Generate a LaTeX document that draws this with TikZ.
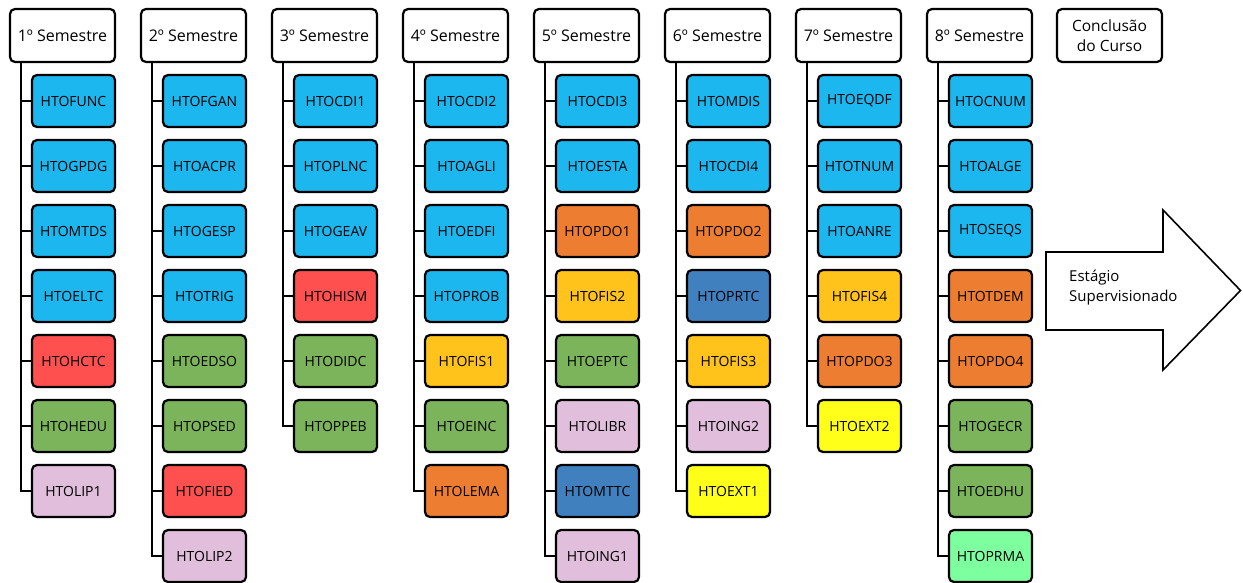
\documentclass[tikz,border=0pt]{standalone}
\usepackage{fontspec}
\setmainfont{Open Sans}

\definecolor{azul}{HTML}{1BB7EE}
\definecolor{vermelho}{HTML}{FF5050}
\definecolor{verde}{HTML}{7BB45A}
\definecolor{rosa}{HTML}{E0BEDC}
\definecolor{laranja}{HTML}{ED7D31}
\definecolor{ouro}{HTML}{FFC31B}
\definecolor{amarelo}{HTML}{FFFF19}
\definecolor{azulesc}{HTML}{4080BF}
\definecolor{verdecl}{HTML}{7DFFA0}

\begin{document}
\begin{tikzpicture}[x=1pt,y=-1pt,
	semestre/.style={draw,line width=2.2pt,rounded corners=5pt,fill=white,minimum width=105pt,minimum height=53pt,inner sep=0pt,font=\fontsize{16}{19}\selectfont},
	disc/.style={draw,line width=2.2pt,rounded corners=5pt,minimum width=83pt,minimum height=52pt,inner sep=0pt,font=\fontsize{14}{17}\selectfont},
	tronco/.style={line width=2.6pt},
	ramo/.style={line width=2.2pt}]

	\useasboundingbox (0,0) rectangle (1243,583);

	% semesters
	\node[semestre] (s1) at (62.5,35.5) {1º Semestre};
	\node[semestre] (s2) at (193.5,35.5) {2º Semestre};
	\node[semestre] (s3) at (324.5,35.5) {3º Semestre};
	\node[semestre] (s4) at (455.5,35.5) {4º Semestre};
	\node[semestre] (s5) at (586.5,35.5) {5º Semestre};
	\node[semestre] (s6) at (717.5,35.5) {6º Semestre};
	\node[semestre] (s7) at (848.5,35.5) {7º Semestre};
	\node[semestre] (s8) at (979.5,35.5) {8º Semestre};
	\node[semestre,align=center,font=\fontsize{15.5}{20}\selectfont] (fim) at (1109.5,35.5) {Conclusão\\do Curso};

	% 1st semester
	\node[disc,fill=azul] (htofunc) at (73.5,101) {HTOFUNC};
	\node[disc,fill=azul] (htogpdg) at (73.5,166) {HTOGPDG};
	\node[disc,fill=azul] (htomtds) at (73.5,231) {HTOMTDS};
	\node[disc,fill=azul] (htoeltc) at (73.5,296) {HTOELTC};
	\node[disc,fill=vermelho] (htohctc) at (73.5,361) {HTOHCTC};
	\node[disc,fill=verde] (htohedu) at (73.5,426) {HTOHEDU};
	\node[disc,fill=rosa] (htolip1) at (73.5,491) {HTOLIP1};
	\coordinate (t1) at (s1.south west -| 21,0);
	\draw[tronco] (t1) |- (htolip1.west);
	\draw[ramo] (t1 |- htofunc.west) -- (htofunc.west) (t1 |- htogpdg.west) -- (htogpdg.west)
		(t1 |- htomtds.west) -- (htomtds.west) (t1 |- htoeltc.west) -- (htoeltc.west)
		(t1 |- htohctc.west) -- (htohctc.west) (t1 |- htohedu.west) -- (htohedu.west);

	% 2nd semester
	\node[disc,fill=azul] (htofgan) at (204.5,101) {HTOFGAN};
	\node[disc,fill=azul] (htoacpr) at (204.5,166) {HTOACPR};
	\node[disc,fill=azul] (htogesp) at (204.5,231) {HTOGESP};
	\node[disc,fill=azul] (htotrig) at (204.5,296) {HTOTRIG};
	\node[disc,fill=verde] (htoedso) at (204.5,361) {HTOEDSO};
	\node[disc,fill=verde] (htopsed) at (204.5,426) {HTOPSED};
	\node[disc,fill=vermelho] (htofied) at (204.5,491) {HTOFIED};
	\node[disc,fill=rosa] (htolip2) at (204.5,556) {HTOLIP2};
	\coordinate (t2) at (s2.south west -| 152,0);
	\draw[tronco] (t2) |- (htolip2.west);
	\draw[ramo] (t2 |- htofgan.west) -- (htofgan.west) (t2 |- htoacpr.west) -- (htoacpr.west)
		(t2 |- htogesp.west) -- (htogesp.west) (t2 |- htotrig.west) -- (htotrig.west)
		(t2 |- htoedso.west) -- (htoedso.west) (t2 |- htopsed.west) -- (htopsed.west)
		(t2 |- htofied.west) -- (htofied.west);

	% 3rd semester
	\node[disc,fill=azul] (htocdi1) at (335.5,101) {HTOCDI1};
	\node[disc,fill=azul] (htoplnc) at (335.5,166) {HTOPLNC};
	\node[disc,fill=azul] (htogeav) at (335.5,231) {HTOGEAV};
	\node[disc,fill=vermelho] (htohism) at (335.5,296) {HTOHISM};
	\node[disc,fill=verde] (htodidc) at (335.5,361) {HTODIDC};
	\node[disc,fill=verde] (htoppeb) at (335.5,426) {HTOPPEB};
	\coordinate (t3) at (s3.south west -| 283,0);
	\draw[tronco] (t3) |- (htoppeb.west);
	\draw[ramo] (t3 |- htocdi1.west) -- (htocdi1.west) (t3 |- htoplnc.west) -- (htoplnc.west)
		(t3 |- htogeav.west) -- (htogeav.west) (t3 |- htohism.west) -- (htohism.west)
		(t3 |- htodidc.west) -- (htodidc.west);

	% 4th semester
	\node[disc,fill=azul] (htocdi2) at (466.5,101) {HTOCDI2};
	\node[disc,fill=azul] (htoagli) at (466.5,166) {HTOAGLI};
	\node[disc,fill=azul] (htoedfi) at (466.5,231) {HTOEDFI};
	\node[disc,fill=azul] (htoprob) at (466.5,296) {HTOPROB};
	\node[disc,fill=ouro] (htofis1) at (466.5,361) {HTOFIS1};
	\node[disc,fill=verde] (htoeinc) at (466.5,426) {HTOEINC};
	\node[disc,fill=laranja] (htolema) at (466.5,491) {HTOLEMA};
	\coordinate (t4) at (s4.south west -| 414,0);
	\draw[tronco] (t4) |- (htolema.west);
	\draw[ramo] (t4 |- htocdi2.west) -- (htocdi2.west) (t4 |- htoagli.west) -- (htoagli.west)
		(t4 |- htoedfi.west) -- (htoedfi.west) (t4 |- htoprob.west) -- (htoprob.west)
		(t4 |- htofis1.west) -- (htofis1.west) (t4 |- htoeinc.west) -- (htoeinc.west);

	% 5th semester
	\node[disc,fill=azul] (htocdi3) at (597.5,101) {HTOCDI3};
	\node[disc,fill=azul] (htoesta) at (597.5,166) {HTOESTA};
	\node[disc,fill=laranja] (htopdo1) at (597.5,231) {HTOPDO1};
	\node[disc,fill=ouro] (htofis2) at (597.5,296) {HTOFIS2};
	\node[disc,fill=verde] (htoeptc) at (597.5,361) {HTOEPTC};
	\node[disc,fill=rosa] (htolibr) at (597.5,426) {HTOLIBR};
	\node[disc,fill=azulesc] (htomttc) at (597.5,491) {HTOMTTC};
	\node[disc,fill=rosa] (htoing1) at (597.5,556) {HTOING1};
	\coordinate (t5) at (s5.south west -| 545,0);
	\draw[tronco] (t5) |- (htoing1.west);
	\draw[ramo] (t5 |- htocdi3.west) -- (htocdi3.west) (t5 |- htoesta.west) -- (htoesta.west)
		(t5 |- htopdo1.west) -- (htopdo1.west) (t5 |- htofis2.west) -- (htofis2.west)
		(t5 |- htoeptc.west) -- (htoeptc.west) (t5 |- htolibr.west) -- (htolibr.west)
		(t5 |- htomttc.west) -- (htomttc.west);

	% 6th semester
	\node[disc,fill=azul] (htomdis) at (728.5,101) {HTOMDIS};
	\node[disc,fill=azul] (htocdi4) at (728.5,166) {HTOCDI4};
	\node[disc,fill=laranja] (htopdo2) at (728.5,231) {HTOPDO2};
	\node[disc,fill=azulesc] (htoprtc) at (728.5,296) {HTOPRTC};
	\node[disc,fill=ouro] (htofis3) at (728.5,361) {HTOFIS3};
	\node[disc,fill=rosa] (htoing2) at (728.5,426) {HTOING2};
	\node[disc,fill=amarelo] (htoext1) at (728.5,491) {HTOEXT1};
	\coordinate (t6) at (s6.south west -| 676,0);
	\draw[tronco] (t6) |- (htoext1.west);
	\draw[ramo] (t6 |- htomdis.west) -- (htomdis.west) (t6 |- htocdi4.west) -- (htocdi4.west)
		(t6 |- htopdo2.west) -- (htopdo2.west) (t6 |- htoprtc.west) -- (htoprtc.west)
		(t6 |- htofis3.west) -- (htofis3.west) (t6 |- htoing2.west) -- (htoing2.west);

	% 7th semester
	\node[disc,fill=azul] (htoeqdf) at (859.5,101) {HTOEQDF};
	\node[disc,fill=azul] (htotnum) at (859.5,166) {HTOTNUM};
	\node[disc,fill=azul] (htoanre) at (859.5,231) {HTOANRE};
	\node[disc,fill=ouro] (htofis4) at (859.5,296) {HTOFIS4};
	\node[disc,fill=laranja] (htopdo3) at (859.5,361) {HTOPDO3};
	\node[disc,fill=amarelo] (htoext2) at (859.5,426) {HTOEXT2};
	\coordinate (t7) at (s7.south west -| 807,0);
	\draw[tronco] (t7) |- (htoext2.west);
	\draw[ramo] (t7 |- htoeqdf.west) -- (htoeqdf.west) (t7 |- htotnum.west) -- (htotnum.west)
		(t7 |- htoanre.west) -- (htoanre.west) (t7 |- htofis4.west) -- (htofis4.west)
		(t7 |- htopdo3.west) -- (htopdo3.west);

	% 8th semester
	\node[disc,fill=azul] (htocnum) at (990.5,101) {HTOCNUM};
	\node[disc,fill=azul] (htoalge) at (990.5,166) {HTOALGE};
	\node[disc,fill=azul] (htoseqs) at (990.5,231) {HTOSEQS};
	\node[disc,fill=laranja] (htotdem) at (990.5,296) {HTOTDEM};
	\node[disc,fill=laranja] (htopdo4) at (990.5,361) {HTOPDO4};
	\node[disc,fill=verde] (htogecr) at (990.5,426) {HTOGECR};
	\node[disc,fill=verde] (htoedhu) at (990.5,491) {HTOEDHU};
	\node[disc,fill=verdecl] (htoprma) at (990.5,556) {HTOPRMA};
	\coordinate (t8) at (s8.south west -| 938,0);
	\draw[tronco] (t8) |- (htoprma.west);
	\draw[ramo] (t8 |- htocnum.west) -- (htocnum.west) (t8 |- htoalge.west) -- (htoalge.west)
		(t8 |- htoseqs.west) -- (htoseqs.west) (t8 |- htotdem.west) -- (htotdem.west)
		(t8 |- htopdo4.west) -- (htopdo4.west) (t8 |- htogecr.west) -- (htogecr.west)
		(t8 |- htoedhu.west) -- (htoedhu.west);

	% internship arrow
	\draw[line width=1.6pt,fill=white] (1046,252) -- (1163,252) -- (1163,210) -- (1240.5,290.5)
		-- (1163,370) -- (1163,330) -- (1046,330) -- cycle;
	\node[anchor=west,align=left,inner sep=0pt,font=\fontsize{15}{20}\selectfont] (estagio) at (1069,288) {Estágio\\Supervisionado};

\end{tikzpicture}
\end{document}
